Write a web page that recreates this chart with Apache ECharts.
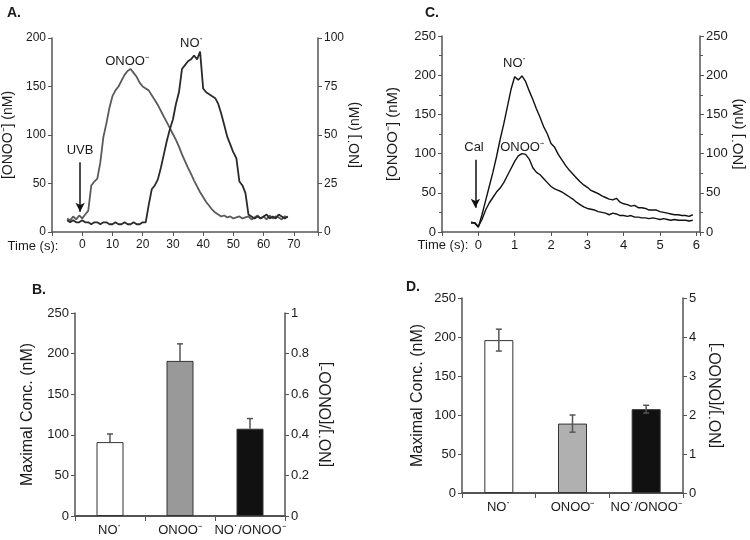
<!DOCTYPE html>
<html><head><meta charset="utf-8">
<script src="https://cdn.jsdelivr.net/npm/echarts@6/dist/echarts.min.js"></script>
<style>html,body{margin:0;padding:0;background:#fff}#c{width:750px;height:540px}</style>
</head><body><div id="c"></div>
<script>
// Panel A: UVB-stimulated traces
const aTime = [-5,-4,-3,-2,-1,0,1,2,3,4,5,6,7,8,9,10,11,12,13,14,15,16,17,18,19,20,21,22,23,24,25,26,27,28,29,30,31,32,33,34,35,36,37,38,39,40,41,42,43,44,45,46,47,48,49,50,51,52,53,54,55,56,57,58,59,60,61,62,63,64,65,66,67,68];
const aOnoo = [14,12,16,13,17,14,18,22,48,52,55,72,98,112,128,140,146,150,156,162,166,168,164,160,154,150,148,146,141,136,131,125,119,113,107,101,95,88,80,73,66,60,53,47,41,36,31,27,23,20,18,16,17,15,16,14,15,16,14,15,16,13,15,17,14,16,13,17,14,16,15,13,16,15];
const aNo = [6,5,6,5,5,6,5,5,4,5,5,4,5,5,4,4,5,4,4,5,4,4,5,4,4,5,5,14,22,24,27,33,40,47,53,58,66,72,84,86,88,89,91,89,93,74,72,71,70,69,66,61,55,49,45,41,38,26,24,20,9,8,7,8,7,8,9,7,8,7,9,8,7,8];
const aXTicks = [0,10,20,30,40,50,60,70];
// Panel C: Cal-stimulated traces
const cTime = [-0.2,-0.1,0,0.1,0.2,0.3,0.4,0.5,0.6,0.7,0.8,0.9,1.0,1.1,1.2,1.3,1.4,1.5,1.6,1.7,1.8,1.9,2.0,2.1,2.2,2.3,2.4,2.5,2.6,2.7,2.8,2.9,3.0,3.1,3.2,3.3,3.4,3.5,3.6,3.7,3.8,3.9,4.0,4.1,4.2,4.3,4.4,4.5,4.6,4.7,4.8,4.9,5.0,5.1,5.2,5.3,5.4,5.5,5.6,5.7,5.8,5.9];
const cNo = [13,11,6,22,40,58,76,96,118,138,160,182,198,194,199,192,180,169,157,146,134,125,113,108,99,92,85,79,74,69,64,60,57,53,51,49,46,44,42,41,43,38,36,35,33,34,31,31,30,28,28,28,26,25,24,23,22,22,21,21,20,22];
const cOnoo = [11,12,7,16,28,37,44,51,56,63,72,81,90,97,100,99,93,82,76,73,68,63,58,55,53,51,48,45,42,38,35,32,30,29,28,26,25,24,22,24,23,21,21,20,21,19,19,18,18,17,18,17,16,17,16,15,16,15,15,15,14,15];
const cXTicks = [0,1,2,3,4,5,6];
// Panels B and D: maxima
const barCats = ['NO˙', 'ONOO⁻', 'NO˙/ONOO⁻'];
const bConc = [91, 191];
const bConcErr = [10, 21];
const bRatio = 0.43;
const bRatioErr = 0.05;
const dConc = [196, 89];
const dConcErr = [14, 11];
const dRatio = 2.15;
const dRatioErr = 0.1;
const barColors = ['#ffffff', '#999999', '#111111'];
const barColorsD = ['#ffffff', '#b0b0b0', '#111111'];

const FONT = 'Liberation Sans, Arial, sans-serif';
const TXT = '#1a1a1a';
const AX = '#555';

function zip(xs, ys){ return xs.map((x,i)=>[x, ys[i]]); }

function yAx(grid, pos, min, max, interval, name, gap, nameSize, tickSize, extra){
  return Object.assign({
    type:'value', gridIndex:grid, position:pos, min:min, max:max, interval:interval,
    name:name, nameLocation:'middle', nameRotate:90, nameGap:gap,
    nameTextStyle:{fontFamily:FONT, fontSize:nameSize, color:TXT},
    axisLine:{show:true, onZero:false, lineStyle:{color:AX, width:1.5}},
    axisTick:{show:true, length:4, lineStyle:{color:AX}},
    axisLabel:{fontFamily:FONT, fontSize:tickSize, color:TXT, margin:6},
    splitLine:{show:false}
  }, extra||{});
}

function xVal(grid, min, max, interval, ticks, tickSize){
  return {
    type:'value', gridIndex:grid, min:min, max:max, interval:interval,
    axisLine:{show:true, onZero:false, lineStyle:{color:AX, width:1.5}},
    axisTick:{show:true, length:4, lineStyle:{color:AX}},
    axisLabel:{fontFamily:FONT, fontSize:tickSize, color:TXT, margin:7,
      formatter:function(v){ return ticks.indexOf(Math.round(v*1000)/1000) >= 0 ? String(v) : ''; }},
    splitLine:{show:false}
  };
}

function xCat(grid){
  return {
    type:'category', gridIndex:grid, data:barCats,
    axisLine:{show:true, onZero:false, lineStyle:{color:AX, width:2}},
    axisTick:{show:true, length:5, lineStyle:{color:AX}},
    axisLabel:{fontFamily:FONT, fontSize:13, color:TXT, margin:8, interval:0},
    splitLine:{show:false}
  };
}

function errRender(showLower){
  return function(params, api){
    const x = api.value(0), lo = api.value(1), hi = api.value(2);
    const p1 = api.coord([x, lo]);
    const p2 = api.coord([x, hi]);
    const cap = 3;
    const st = {stroke:'#555', lineWidth:1.5};
    const ch = [
      {type:'line', shape:{x1:p1[0], y1:p1[1], x2:p2[0], y2:p2[1]}, style:st},
      {type:'line', shape:{x1:p2[0]-cap, y1:p2[1], x2:p2[0]+cap, y2:p2[1]}, style:st}
    ];
    if (showLower) ch.push({type:'line', shape:{x1:p1[0]-cap, y1:p1[1], x2:p1[0]+cap, y2:p1[1]}, style:st});
    return {type:'group', children:ch};
  };
}

const chart = echarts.init(document.getElementById('c'), null, {renderer:'canvas'});

const bConcData = bConc.map((v,i)=>({value:v, itemStyle:{color:barColors[i]}})).concat(['-']);
const dConcData = dConc.map((v,i)=>({value:v, itemStyle:{color:barColorsD[i]}})).concat(['-']);

function txt(x, y, s, opts){
  return {type:'text', x:x, y:y, style:Object.assign({text:s, fontFamily:FONT, fontSize:13, fill:TXT, textAlign:'center', textVerticalAlign:'middle'}, opts||{})};
}
const minor = {minorTick:{show:true, splitNumber:2, length:3, lineStyle:{color:AX}}};

const option = {
  animation:false,
  backgroundColor:'#fff',
  grid:[
    {left:52, top:38, width:266, height:194},
    {left:442, top:36, width:258, height:196},
    {left:75, top:313, width:210, height:203},
    {left:462, top:298, width:221, height:195}
  ],
  xAxis:[
    xVal(0, -10, 78, 10, aXTicks, 12),
    xVal(1, -1, 6.1, 1, cXTicks, 13),
    xCat(2),
    xCat(3)
  ],
  yAxis:[
    yAx(0, 'left', 0, 200, 50, '[ONOO⁻] (nM)', 37, 14, 12),
    yAx(0, 'right', 0, 100, 25, '[NO˙] (nM)', 29, 14, 12),
    yAx(1, 'left', 0, 250, 50, '[ONOO⁻] (nM)', 42, 15, 13, minor),
    yAx(1, 'right', 0, 250, 50, '[NO˙] (nM)', 29, 15, 13, minor),
    yAx(2, 'left', 0, 250, 50, 'Maximal Conc. (nM)', 39, 16, 13),
    yAx(2, 'right', 0, 1, 0.2, '[NO˙]/[ONOO⁻]', 34, 16, 13),
    yAx(3, 'left', 0, 250, 50, 'Maximal Conc. (nM)', 36, 16, 13),
    yAx(3, 'right', 0, 5, 1, '[NO˙]/[ONOO⁻]', 26, 16, 13)
  ],
  series:[
    {type:'line', xAxisIndex:0, yAxisIndex:0, data:zip(aTime, aOnoo), showSymbol:false, lineStyle:{color:'#5a5a5a', width:1.8},
      markLine:{silent:true, symbol:['none','arrow'], symbolSize:[7,9], label:{show:false}, lineStyle:{color:'#111', width:1.5, type:'solid'},
        data:[[{coord:[-0.7, 72]},{coord:[-0.7, 21]}]]}},
    {type:'line', xAxisIndex:0, yAxisIndex:1, data:zip(aTime, aNo), showSymbol:false, lineStyle:{color:'#2a2a2a', width:1.8}},
    {type:'line', xAxisIndex:1, yAxisIndex:3, data:zip(cTime, cNo), showSymbol:false, lineStyle:{color:'#111', width:1.4},
      markLine:{silent:true, symbol:['none','arrow'], symbolSize:[7,9], label:{show:false}, lineStyle:{color:'#111', width:1.5, type:'solid'},
        data:[[{coord:[-0.08, 92]},{coord:[-0.08, 31]}]]}},
    {type:'line', xAxisIndex:1, yAxisIndex:2, data:zip(cTime, cOnoo), showSymbol:false, lineStyle:{color:'#111', width:1.4}},
    {type:'bar', xAxisIndex:2, yAxisIndex:4, data:bConcData, barWidth:27, barGap:'-100%', itemStyle:{borderColor:'#333', borderWidth:1}},
    {type:'bar', xAxisIndex:2, yAxisIndex:5, data:['-','-',{value:bRatio, itemStyle:{color:barColors[2]}}], barWidth:27, barGap:'-100%', itemStyle:{borderColor:'#333', borderWidth:1}},
    {type:'custom', xAxisIndex:2, yAxisIndex:4, renderItem:errRender(false), data:bConc.map((v,i)=>[i, v, v+bConcErr[i]]), z:5},
    {type:'custom', xAxisIndex:2, yAxisIndex:5, renderItem:errRender(false), data:[[2, bRatio, bRatio+bRatioErr]], z:5},
    {type:'bar', xAxisIndex:3, yAxisIndex:6, data:dConcData, barWidth:29, barGap:'-100%', itemStyle:{borderColor:'#333', borderWidth:1}},
    {type:'bar', xAxisIndex:3, yAxisIndex:7, data:['-','-',{value:dRatio, itemStyle:{color:barColorsD[2]}}], barWidth:29, barGap:'-100%', itemStyle:{borderColor:'#333', borderWidth:1}},
    {type:'custom', xAxisIndex:3, yAxisIndex:6, renderItem:errRender(true), data:dConc.map((v,i)=>[i, v-dConcErr[i], v+dConcErr[i]]), z:5},
    {type:'custom', xAxisIndex:3, yAxisIndex:7, renderItem:errRender(true), data:[[2, dRatio-dRatioErr, dRatio+dRatioErr]], z:5}
  ],
  graphic:[
    txt(14, 13, 'A.', {fontWeight:'bold', fontSize:14}),
    txt(432, 13, 'C.', {fontWeight:'bold', fontSize:14}),
    txt(39, 290, 'B.', {fontWeight:'bold', fontSize:14}),
    txt(413, 287, 'D.', {fontWeight:'bold', fontSize:14}),
    txt(33, 246, 'Time (s):', {fontSize:13}),
    txt(443, 245, 'Time (s):', {fontSize:13}),
    txt(127, 61, 'ONOO⁻', {fontSize:13}),
    txt(192, 43, 'NO˙', {fontSize:13}),
    txt(80, 150, 'UVB', {fontSize:13}),
    txt(515, 63, 'NO˙', {fontSize:13}),
    txt(474, 147, 'Cal', {fontSize:13}),
    txt(522, 147, 'ONOO⁻', {fontSize:13})
  ]
};
chart.setOption(option);
</script></body></html>
